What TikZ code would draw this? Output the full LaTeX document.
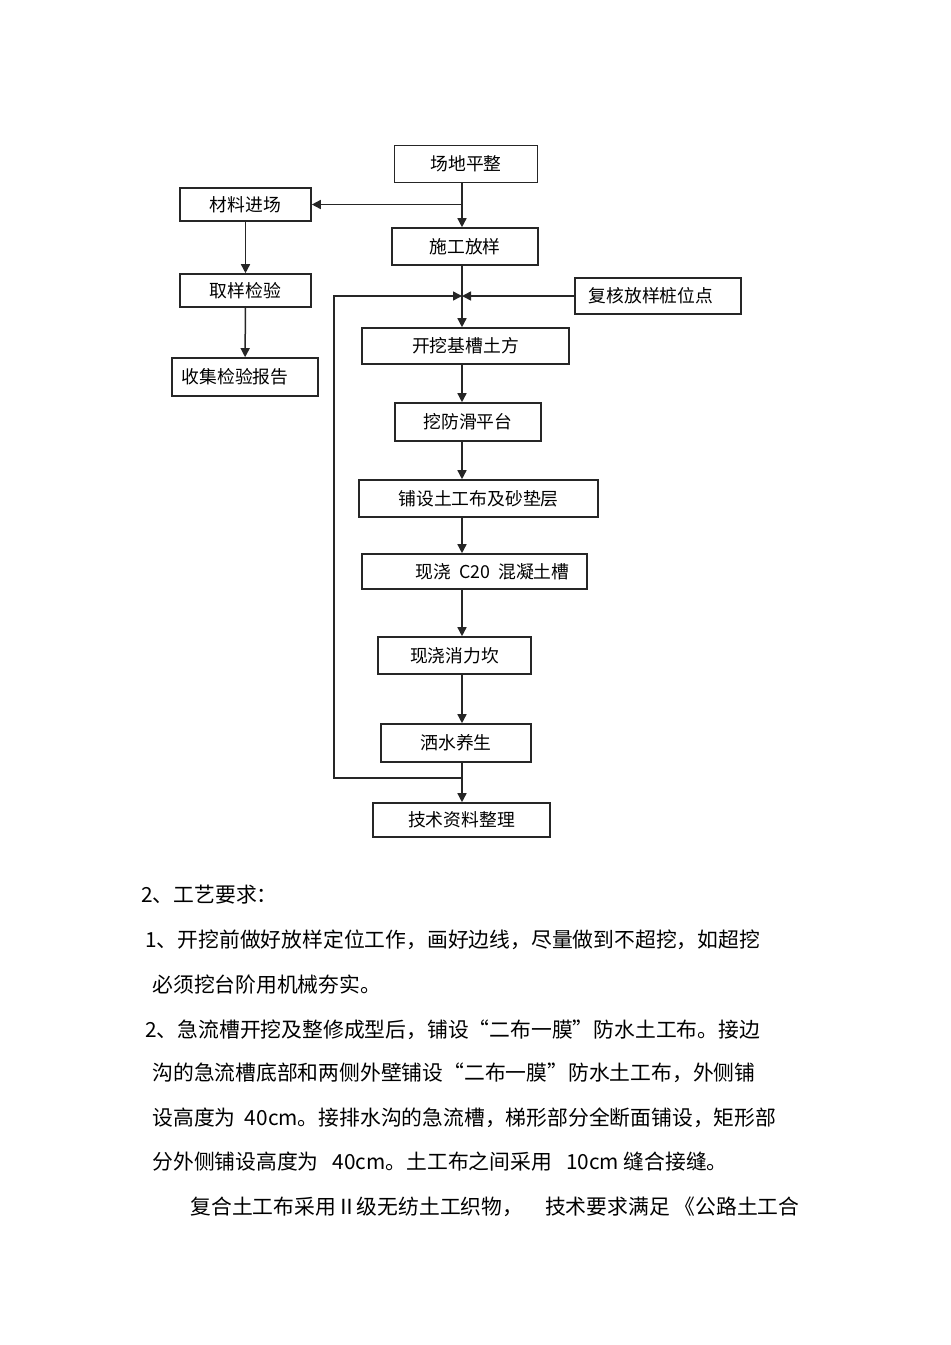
\documentclass[tikz,border=0pt]{standalone}
\usepackage{fontspec}
\setmainfont{Noto Sans CJK SC}
\usetikzlibrary{arrows.meta}

\begin{document}
\begin{tikzpicture}[x=0.5pt, y=-0.5pt, every node/.style={inner sep=0pt},
    box/.style={draw=black!85, line width=0.8pt, font=\fontsize{8.9}{10}\selectfont},
    flow/.style={draw=black!85, line width=0.75pt, -{Triangle[length=4.5pt,width=4.5pt]}},
    para/.style={anchor=west, font=\fontsize{10.4}{12}\selectfont}]
    \useasboundingbox (0,0) rectangle (950,1345);
    \node[box, minimum width=71.5pt, minimum height=18.5pt] (cdpz) at (466,164) {场地平整};
    \node[box, minimum width=65.5pt, minimum height=16.5pt] (cljc) at (245.5,204.5) {材料进场};
    \node[box, minimum width=73pt, minimum height=18.5pt] (sgfy) at (465,246.5) {施工放样};
    \node[box, minimum width=65.5pt, minimum height=16.5pt] (qyjy) at (245.5,290.5) {取样检验};
    \node[box, minimum width=83pt, minimum height=18pt] (fhfy) at (658,296) {复核放样桩位点\kern7pt};
    \node[box, minimum width=73pt, minimum height=19pt] (sjbg) at (245,377) {收集检验报告\kern10pt};
    \node[box, minimum width=103.5pt, minimum height=18pt] (kwjc) at (465.5,346) {开挖基槽土方};
    \node[box, minimum width=73pt, minimum height=19pt] (wfh) at (468,422) {挖防滑平台};
    \node[box, minimum width=119.5pt, minimum height=18.5pt] (pstg) at (478.5,498.5) {铺设土工布及砂垫层};
    \node[box, minimum width=112.5pt, minimum height=17.5pt] (xjc) at (474.5,571.5) {\kern18pt 现浇\ \ C20\ \ 混凝土槽};
    \node[box, minimum width=76.5pt, minimum height=18.5pt] (xlk) at (454.5,655.5) {现浇消力坎};
    \node[box, minimum width=75pt, minimum height=19pt] (sssy) at (456,743) {洒水养生};
    \node[box, minimum width=88.5pt, minimum height=17pt] (jszl) at (461.5,820) {技术资料整理};
    \coordinate (spine) at (462,0);
    \coordinate (loop) at (334,778);
    \foreach \from/\to in {cdpz/sgfy, sgfy/kwjc, kwjc/wfh, wfh/pstg, pstg/xjc, xjc/xlk, xlk/sssy, sssy/jszl}
        \draw[flow] (spine |- \from.south) -- (spine |- \to.north);
    \foreach \from/\to in {cljc/qyjy, qyjy/sjbg}
        \draw[flow] (\from) -- (\to);
    \draw[flow] (spine |- cljc.east) -- (cljc.east);
    \draw[flow] (fhfy.west) -- (spine |- fhfy.west);
    \draw[flow] (spine |- loop) -- (loop) -- (loop |- fhfy.west) -- (spine |- fhfy.west);
    \node[para] (t0) at (141,895) {2、工艺要求：};
    \node[para] (t1) at (145,940) {1、开挖前做好放样定位工作，画好边线，尽量做到不超挖，如超挖};
    \node[para] (t2) at (152,985) {必须挖台阶用机械夯实。};
    \node[para] (t3) at (145,1030) {2、急流槽开挖及整修成型后，铺设“二布一膜”防水土工布。接边};
    \node[para] (t4) at (152,1073) {沟的急流槽底部和两侧外壁铺设“二布一膜”防水土工布，外侧铺};
    \node[para] (t5) at (152,1118) {设高度为\ \ 40cm。接排水沟的急流槽，梯形部分全断面铺设，矩形部};
    \node[para] (t6) at (152,1162) {分外侧铺设高度为\ \ \ 40cm。土工布之间采用\ \ \ 10cm 缝合接缝。};
    \node[para] (t7) at (190,1207) {复合土工布采用Ⅱ级无纺土工织物，\hspace{11pt}技术要求满足 《公路土工合};
\end{tikzpicture}
\end{document}
